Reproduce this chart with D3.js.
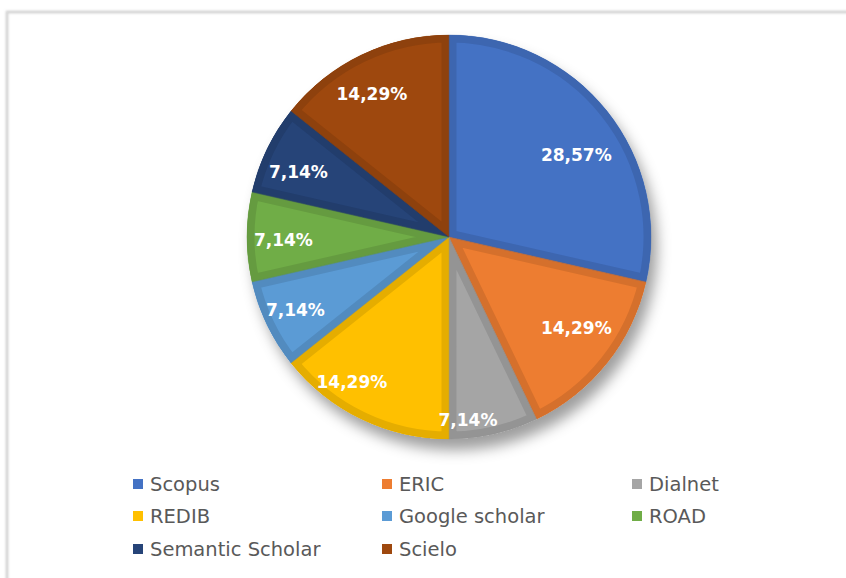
<!DOCTYPE html>
<html>
<head>
<meta charset="utf-8">
<script src="https://cdn.jsdelivr.net/npm/d3@7/dist/d3.min.js"></script>
<style>
  html, body { margin: 0; padding: 0; background: #ffffff; }
  svg { display: block; }
</style>
</head>
<body>
<script>
// ---- data ----
const categories = ["Scopus", "ERIC", "Dialnet", "REDIB", "Google scholar", "ROAD", "Semantic Scholar", "Scielo"];
const values = [28.57, 14.29, 7.14, 14.29, 7.14, 7.14, 7.14, 14.29];
const labels = ["28,57%", "14,29%", "7,14%", "14,29%", "7,14%", "7,14%", "7,14%", "14,29%"];
const colors = ["#4472C4", "#ED7D31", "#A5A5A5", "#FFC000", "#5B9BD5", "#70AD47", "#264478", "#9E480E"];

// ---- drawing ----
const W = 846, H = 578;
const cx = 449, cy = 237, R = 202;

const svg = d3.select("body").append("svg").attr("width", W).attr("height", H);
const defs = svg.append("defs");

// drop shadow
const f = defs.append("filter").attr("id", "shadow")
  .attr("x", "-20%").attr("y", "-20%").attr("width", "140%").attr("height", "150%");
f.append("feDropShadow").attr("dx", 6).attr("dy", 11).attr("stdDeviation", 7)
  .attr("flood-color", "#000").attr("flood-opacity", 0.38);

// frame shadow
const ff = defs.append("filter").attr("id", "frameShadow")
  .attr("x", "-5%").attr("y", "-5%").attr("width", "110%").attr("height", "110%");
ff.append("feGaussianBlur").attr("stdDeviation", 1.2);

// chart frame (top and left edges visible)
svg.append("path")
  .attr("d", `M7,${H + 5} L7,12 L${W + 5},12`)
  .attr("fill", "none").attr("stroke", "#cfcfcf").attr("stroke-width", 2.5)
  .attr("filter", "url(#frameShadow)");
svg.append("path")
  .attr("d", `M7,${H + 5} L7,12 L${W + 5},12`)
  .attr("fill", "none").attr("stroke", "#dcdcdc").attr("stroke-width", 1);

const pie = d3.pie().sort(null).value(d => d)(values);
const arc = d3.arc().innerRadius(0).outerRadius(R);

const g = svg.append("g").attr("transform", `translate(${cx},${cy})`);
const shadowG = g.append("g").attr("filter", "url(#shadow)");
shadowG.selectAll("path.base").data(pie).join("path")
  .attr("class", "base")
  .attr("d", arc)
  .attr("fill", (d, i) => colors[i]);

// per-slice clip for inner bevel band
pie.forEach((d, i) => {
  defs.append("clipPath").attr("id", "clip" + i)
    .append("path").attr("d", arc(d));
});

g.selectAll("path.slice").data(pie).join("path")
  .attr("class", "slice")
  .attr("d", arc)
  .attr("fill", (d, i) => colors[i])
  .attr("stroke", (d, i) => d3.color(colors[i]).darker(0.3))
  .attr("stroke-width", 15)
  .attr("stroke-linejoin", "miter")
  .attr("clip-path", (d, i) => `url(#clip${i})`);

// subtle separation lines
g.selectAll("path.edge").data(pie).join("path")
  .attr("class", "edge")
  .attr("d", arc)
  .attr("fill", "none")
  .attr("stroke", (d, i) => d3.color(colors[i]).darker(0.4))
  .attr("stroke-opacity", 0.35)
  .attr("stroke-width", 1);

// labels
const labelArc = d3.arc().innerRadius(R * 0.8).outerRadius(R * 0.8);
const nudge = [[1, 19], [1, -10], [-17, 25], [-27, -1], [-8, 3], [-4, 3], [-5, 5], [-7, 2]];
g.selectAll("text.lbl").data(pie).join("text")
  .attr("class", "lbl")
  .attr("x", (d, i) => labelArc.centroid(d)[0] + nudge[i][0])
  .attr("y", (d, i) => labelArc.centroid(d)[1] + nudge[i][1])
  .attr("dy", "0.36em")
  .attr("text-anchor", "middle")
  .attr("font-family", "DejaVu Sans, Verdana, sans-serif")
  .attr("font-weight", "bold")
  .attr("font-size", 17)
  .attr("fill", "#ffffff")
  .text((d, i) => labels[i]);

// legend
const colX = [133, 382, 632];
const rowY = [491, 523, 556];
const leg = svg.append("g");
categories.forEach((c, i) => {
  const col = i % 3, row = Math.floor(i / 3);
  const item = leg.append("g").attr("transform", `translate(${colX[col]},${rowY[row]})`);
  item.append("rect").attr("x", 0).attr("y", -12).attr("width", 10).attr("height", 10)
    .attr("fill", colors[i]);
  item.append("text").attr("x", 17).attr("y", 0)
    .attr("font-family", "DejaVu Sans, Verdana, sans-serif")
    .attr("font-size", 19.5)
    .attr("fill", "#595959")
    .text(c);
});
</script>
</body>
</html>
